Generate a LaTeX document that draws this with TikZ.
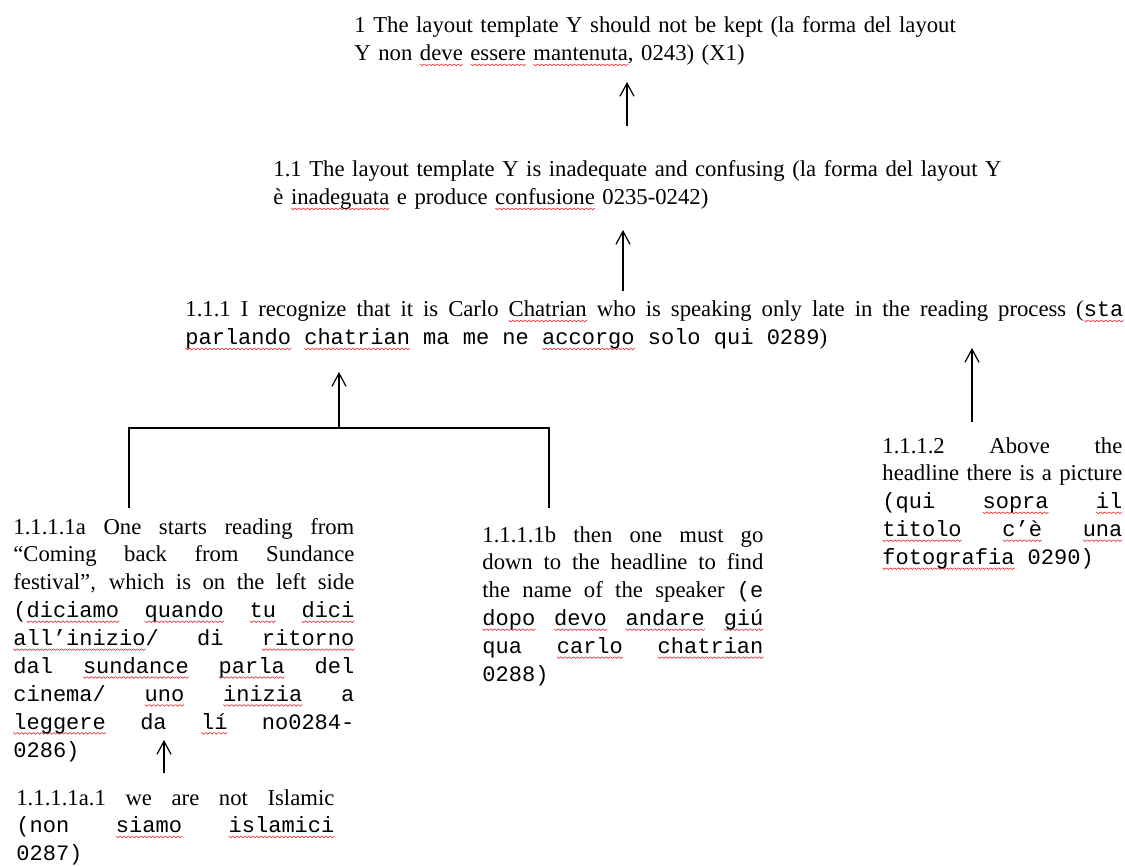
\documentclass[tikz,border=0pt]{standalone}
\usepackage{fontspec}
\usetikzlibrary{arrows.meta}
\setmainfont{Liberation Serif}
\setmonofont{Liberation Mono}[Scale=0.97]
\definecolor{spellred}{HTML}{E03C3C}
\newsavebox\wavebox
\sbox\wavebox{\tikz[x=1pt, y=1pt]{\useasboundingbox (0, -0.4) rectangle (2, 1.2);
    \draw[spellred, line width=0.35pt] (0, 0.8) -- (1, 0) -- (2, 0.8);}}
\newcommand\spell[1]{\setbox0\hbox{#1}\rlap{\lower2.8pt\hbox to\wd0{\xleaders\copy\wavebox\hfil}}\box0\relax}
\newcommand\quo[1]{{\ttfamily\fontdimen3\font=0.4em\fontdimen4\font=0.1em #1}}
\newcommand\notefont{\fontsize{11.35}{13.95}\selectfont}
\hbadness=10000

\begin{document}
\begin{tikzpicture}[x=0.5pt, y=-0.5pt]
                \tikzstyle{note} = [anchor=base west, inner sep=0pt, font=\notefont, align=justify]
                \tikzstyle{link} = [line width=0.6pt, -{Straight Barb[length=6.5pt, width=7pt]}]
                \tikzstyle{fork} = [line width=0.6pt]
                \fill[white] (0, 0) rectangle (1125, 866);
                \useasboundingbox (0, 0) rectangle (1125, 866);
                \node[note, align=left, text width=320pt] (n1) at (354, 33)
                    {1 The layout template Y should not be kept (la forma del layout\\
                     Y non \spell{deve} \spell{essere} \spell{mantenuta}, 0243) (X1)};
                \node[note, align=left, text width=370pt] (n11) at (273, 177)
                    {1.1 The layout template Y is inadequate and confusing (la forma del layout Y\\
                     è \spell{inadeguata} e produce \spell{confusione} 0235-0242)};
                \node[note, text width=469pt] (n111) at (185, 317)
                    {1.1.1 I recognize that it is Carlo \spell{Chatrian} who is speaking only late in the reading process (\quo{\spell{sta}\linebreak
                     \spell{parlando} \spell{chatrian} ma me ne \spell{accorgo} solo qui 0289})};
                \node[note, text width=170.5pt] (n1111a) at (13, 534)
                    {1.1.1.1a One starts reading from\linebreak
                     “Coming back from Sundance\linebreak
                     festival”, which is on the left side\linebreak
                     \quo{(\spell{diciamo} \spell{quando} \spell{tu} \spell{dici}\linebreak
                     \spell{all’inizio}/ di \spell{ritorno}\linebreak
                     dal \spell{sundance} \spell{parla} del\linebreak
                     cinema/ \spell{uno} \spell{inizia} a\linebreak
                     \spell{leggere} da \spell{lí} no0284-\linebreak
                     0286)}};
                \node[note, text width=159pt] (n1111a1) at (16, 805)
                    {1.1.1.1a.1 we are not Islamic\linebreak
                     \quo{(non \spell{siamo} \spell{islamici}\linebreak
                     0287)}};
                \node[note, text width=140.5pt] (n1111b) at (482, 542)
                    {1.1.1.1b then one must go\linebreak
                     down to the headline to find\linebreak
                     the name of the speaker \quo{(e\linebreak
                     \spell{dopo} \spell{devo} \spell{andare} \spell{giú}\linebreak
                     qua \spell{carlo} \spell{chatrian}\linebreak
                     0288)}};
                \node[note, text width=120pt] (n1112) at (882, 453)
                    {1.1.1.2 Above the\linebreak
                     headline there is a picture\linebreak
                     \quo{(qui \spell{sopra} \spell{il}\linebreak
                     \spell{titolo} \spell{c’è} \spell{una}\linebreak
                     \spell{fotografia} 0290)}};
                \coordinate (top11) at (627, 126);
                \coordinate (bot1) at (627, 82);
                \coordinate (top111) at (623, 291);
                \coordinate (bot11) at (623, 230);
                \coordinate (join) at (339, 428);
                \coordinate (bot111a) at (339, 372);
                \coordinate (top1112) at (972, 422);
                \coordinate (bot111b) at (972, 348);
                \coordinate (topa) at (129, 508);
                \coordinate (topb) at (549, 508);
                \coordinate (topa1) at (164, 773);
                \coordinate (bota) at (164, 740);
                \draw[link] (top11) -- (bot1);
                \draw[link] (top111) -- (bot11);
                \draw[fork] (topa) |- (join) -| (topb);
                \draw[link] (join) -- (bot111a);
                \draw[link] (top1112) -- (bot111b);
                \draw[link] (topa1) -- (bota);
            \end{tikzpicture}
\end{document}
